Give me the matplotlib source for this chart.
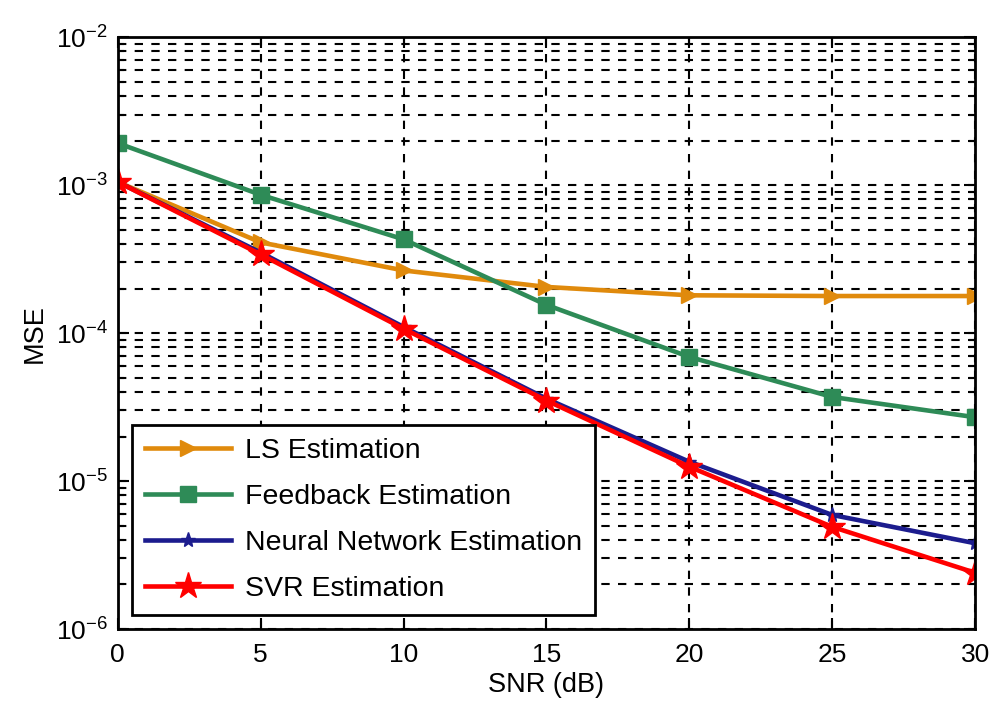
import matplotlib
matplotlib.use("Agg")
import matplotlib.pyplot as plt
from matplotlib.ticker import LogLocator, NullFormatter

plt.rcParams['font.family'] = ['Liberation Sans', 'DejaVu Sans']
plt.rcParams['mathtext.fontset'] = 'custom'
plt.rcParams['mathtext.rm'] = 'Liberation Sans'

snr = [0, 5, 10, 15, 20, 25, 30]
ls_mse = [1.05e-3, 4.1e-4, 2.65e-4, 2.05e-4, 1.8e-4, 1.78e-4, 1.78e-4]
fb_mse = [1.92e-3, 8.6e-4, 4.3e-4, 1.55e-4, 6.9e-5, 3.7e-5, 2.7e-5]
nn_mse = [1.05e-3, 3.5e-4, 1.1e-4, 3.6e-5, 1.35e-5, 5.9e-6, 3.8e-6]
svr_mse = [1.05e-3, 3.4e-4, 1.07e-4, 3.5e-5, 1.25e-5, 4.9e-6, 2.4e-6]
labels = ['LS Estimation', 'Feedback Estimation', 'Neural Network Estimation', 'SVR Estimation']
xticks = [0, 5, 10, 15, 20, 25, 30]

fig = plt.figure(figsize=(9.9, 7.14), dpi=100)
ax = fig.add_axes([0.119, 0.119, 0.866, 0.829])

ax.plot(snr, ls_mse, color='#E08A0C', lw=3.3, marker='>', ms=12, label=labels[0])
ax.plot(snr, fb_mse, color='#2E8B57', lw=3.3, marker='s', ms=12, label=labels[1])
ax.plot(snr, nn_mse, color='#1C1C8E', lw=3.3, marker='*', ms=11, label=labels[2])
ax.plot(snr, svr_mse, color='#FF0000', lw=3.3, marker='*', ms=20, label=labels[3])

ax.set_yscale('log')
ax.set_xlim(0, 30)
ax.set_ylim(1e-6, 1e-2)
ax.set_xticks(xticks)
ax.yaxis.set_major_locator(LogLocator(base=10, numticks=10))
ax.yaxis.set_minor_locator(LogLocator(base=10, subs=range(2, 10), numticks=100))
ax.yaxis.set_minor_formatter(NullFormatter())
ax.tick_params(which='both', direction='in', top=True, right=True, labelsize=19, width=1.5)
ax.tick_params(which='major', length=8)
ax.tick_params(which='minor', length=4)
ax.tick_params(axis='x', pad=10)
ax.tick_params(axis='y', pad=7)
ax.grid(True, which='major', axis='both', color='black', linestyle=(0, (4, 4)), lw=1.5)
ax.grid(True, which='minor', axis='y', color='black', linestyle=(0, (4, 4)), lw=1.5)
for s in ax.spines.values():
    s.set_linewidth(2)

ax.set_xlabel('SNR (dB)', fontsize=19.5, labelpad=4)
ax.set_ylabel('MSE', fontsize=19.5, labelpad=6)

leg = ax.legend(loc='lower left', bbox_to_anchor=(0.017, 0.024), fontsize=20.5,
                fancybox=False, framealpha=1, edgecolor='black', handlelength=3,
                borderaxespad=0, labelspacing=0.7, handletextpad=0.5, borderpad=0.45)
leg.get_frame().set_linewidth(2)

fig.savefig('out.png', dpi=100)
